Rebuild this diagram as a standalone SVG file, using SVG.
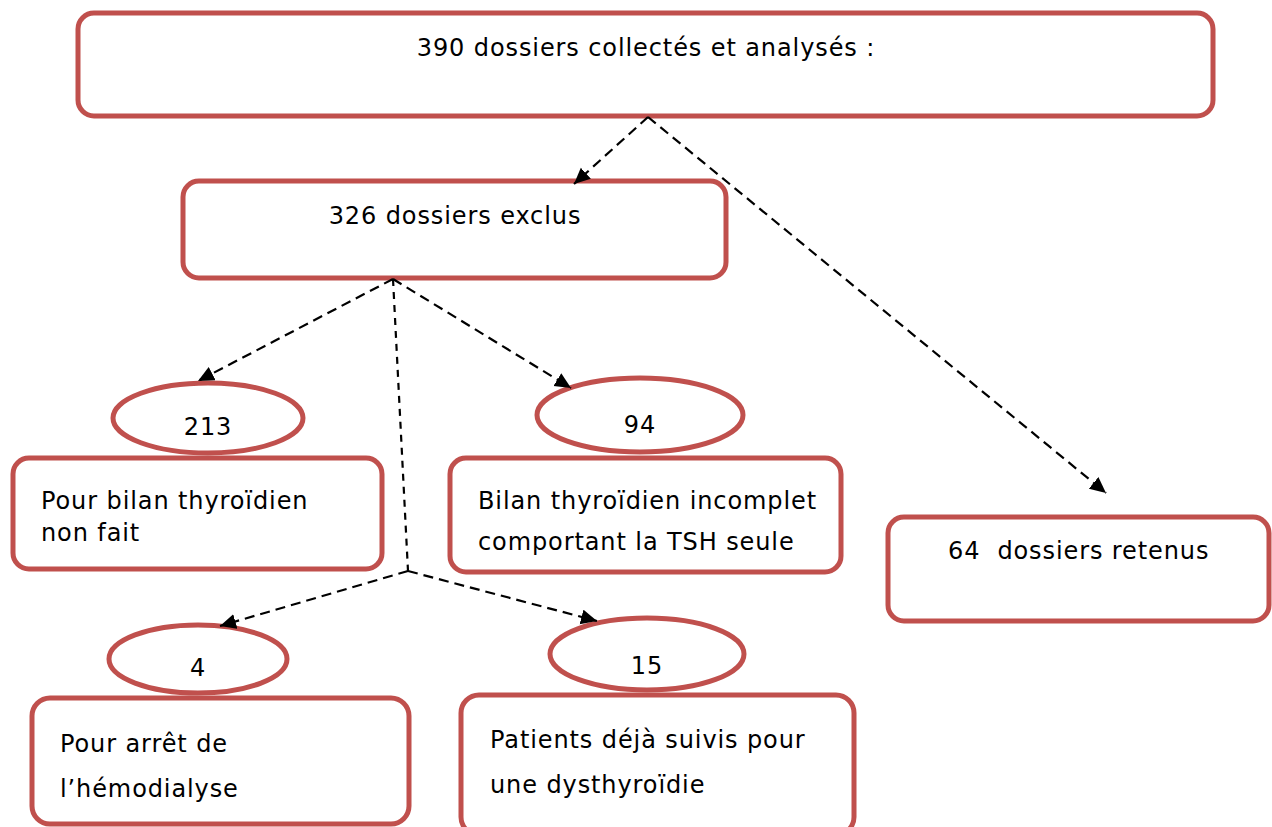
<svg xmlns="http://www.w3.org/2000/svg" width="1272" height="827" viewBox="0 0 1272 827">
<defs>
<style>
.box{fill:#fff;stroke:#C0504D;stroke-width:5}
.t{font-family:"DejaVu Sans","Liberation Sans",sans-serif;font-size:24px;fill:#000;letter-spacing:0.9px;white-space:pre}
.c{stroke:#000;stroke-width:2.2;fill:none;stroke-dasharray:10 6}
.d{stroke:#000;stroke-width:2.2;fill:none;stroke-dasharray:7 6}
</style>
<marker id="ah" markerUnits="userSpaceOnUse" markerWidth="18" markerHeight="16" refX="16" refY="7.5" orient="auto">
<path d="M0,0 L16,7.5 L0,15 z" fill="#000"/>
</marker>
</defs>
<rect width="1272" height="827" fill="#fff"/>
<g id="n-total">
<rect class="box" x="78" y="13" width="1135" height="103" rx="16"/>
<text class="t" x="646" y="56" text-anchor="middle">390 dossiers collectés et analysés :</text>
</g>
<g id="n-exclus">
<rect class="box" x="183" y="181" width="543" height="97" rx="16"/>
<text class="t" x="455" y="224" text-anchor="middle">326 dossiers exclus</text>
</g>
<g id="n-retenus">
<rect class="box" x="888" y="517" width="381" height="104" rx="16"/>
<text class="t" x="948" y="559" xml:space="preserve">64  dossiers retenus</text>
</g>
<g id="n-213">
<ellipse class="box" cx="208" cy="418" rx="95" ry="35"/>
<text class="t" x="208" y="435" text-anchor="middle">213</text>
</g>
<g id="n-bilan">
<rect class="box" x="13" y="458" width="369" height="111" rx="16"/>
<text class="t" x="41" y="509">Pour bilan thyroïdien</text>
<text class="t" x="41" y="541">non fait</text>
</g>
<g id="n-94">
<ellipse class="box" cx="640" cy="415" rx="103" ry="37"/>
<text class="t" x="640" y="433" text-anchor="middle">94</text>
</g>
<g id="n-incomplet">
<rect class="box" x="450" y="458" width="391" height="114" rx="16"/>
<text class="t" x="478" y="509">Bilan thyroïdien incomplet</text>
<text class="t" x="478" y="550">comportant la TSH seule</text>
</g>
<g id="n-4">
<ellipse class="box" cx="198" cy="659" rx="89" ry="34"/>
<text class="t" x="198" y="676" text-anchor="middle">4</text>
</g>
<g id="n-arret">
<rect class="box" x="32" y="698" width="377" height="126" rx="18"/>
<text class="t" x="60" y="752">Pour arrêt de</text>
<text class="t" x="60" y="797">l’hémodialyse</text>
</g>
<g id="n-15">
<ellipse class="box" cx="647" cy="654" rx="97" ry="36"/>
<text class="t" x="647" y="674" text-anchor="middle">15</text>
</g>
<g id="n-suivis">
<rect class="box" x="461" y="695" width="393" height="140" rx="18"/>
<text class="t" x="490" y="748">Patients déjà suivis pour</text>
<text class="t" x="490" y="793">une dysthyroïdie</text>
</g>
<g id="connectors">
<path class="c" d="M648,117 L574,184" marker-end="url(#ah)"/>
<path class="c" d="M648,117 L1106,493" marker-end="url(#ah)"/>
<path class="c" d="M393,279 L198,381" marker-end="url(#ah)"/>
<path class="c" d="M393,279 L571,388" marker-end="url(#ah)"/>
<path class="d" d="M393,279 L408,571"/>
<path class="c" d="M408,571 L220,626" marker-end="url(#ah)"/>
<path class="c" d="M408,571 L597,621" marker-end="url(#ah)"/>
</g>
</svg>
